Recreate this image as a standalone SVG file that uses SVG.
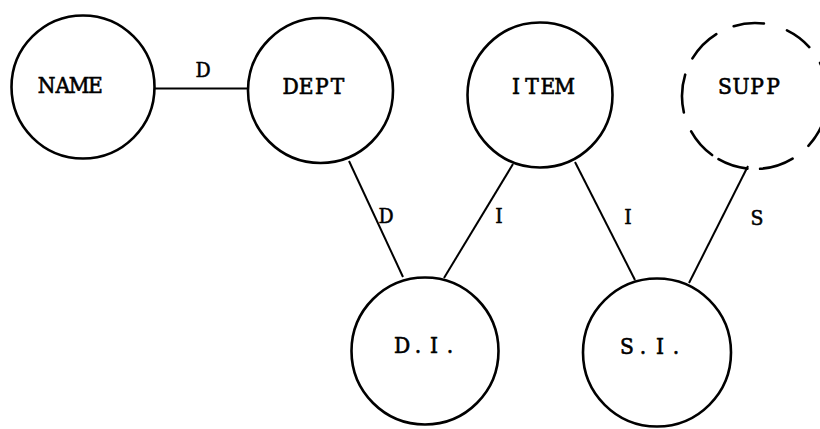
<svg xmlns="http://www.w3.org/2000/svg" width="820" height="429" viewBox="0 0 820 429">
  <style>
    .node { fill: none; stroke: #000; stroke-width: 2.6; }
    .dashed { fill: none; stroke: #000; stroke-width: 2.6; stroke-linecap: round; }
    .edge { stroke: #000; stroke-width: 2; fill: none; }
    .name { font-family: "DejaVu Serif Condensed", "DejaVu Serif", "Liberation Serif", serif; font-size: 22.5px; fill: #000; stroke: #000; stroke-width: 0.6; text-anchor: middle; }
    .lbl { font-family: "DejaVu Serif Condensed", "DejaVu Serif", "Liberation Serif", serif; font-size: 21px; fill: #000; stroke: #000; stroke-width: 0.5; text-anchor: middle; }
  </style>
  <rect width="820" height="429" fill="#fff"/>

  <!-- relationship connectors; glyphs placed on a fixed typewriter pitch -->
  <g id="connectors">
    <line class="edge" x1="154" y1="88.5" x2="248" y2="88.5" stroke-width="2.7"/>
    <line class="edge" x1="349" y1="161" x2="403" y2="277"/>
    <line class="edge" x1="513" y1="164" x2="444" y2="278"/>
    <line class="edge" x1="575" y1="162" x2="635" y2="280"/>
    <line class="edge" x1="748" y1="166" x2="689" y2="283"/>
    <text class="lbl" x="203" y="77">D</text>
    <text class="lbl" x="386" y="223">D</text>
    <text class="lbl" x="499" y="223">I</text>
    <text class="lbl" x="628" y="224">I</text>
    <text class="lbl" x="757" y="225">S</text>
  </g>

  <g id="name">
    <circle class="node" cx="83" cy="87" r="71.5"/>
    <text class="name" x="46.5 62.8 79.2 95.5" y="93">NAME</text>
  </g>

  <g id="dept">
    <circle class="node" cx="320.5" cy="90.5" r="72.5"/>
    <text class="name" x="290.5 306.2 321.8 337.5" y="94">DEPT</text>
  </g>

  <g id="item">
    <circle class="node" cx="540" cy="95" r="72.5"/>
    <text class="name" x="516 532 548 564.5" y="94">ITEM</text>
  </g>

  <!-- dashed entity, drawn as separate arcs -->
  <g id="supp">
    <path class="dashed" d="M747.37 168.60 A73 73 0 0 1 718.50 159.22
      M712.09 155.06 A73 73 0 0 1 691.15 131.39
      M683.87 112.42 A73 73 0 0 1 685.19 74.66
      M692.42 58.40 A73 73 0 0 1 716.32 34.10
      M733.66 26.19 A73 73 0 0 1 763.90 23.55
      M787.00 30.39 A73 73 0 0 1 809.25 47.15
      M820.04 62.86 A73 73 0 0 1 827.90 92.18
      M826.40 111.18 A73 73 0 0 1 808.39 145.79
      M792.60 158.57 A73 73 0 0 1 760.09 168.82"/>
    <text class="name" x="725 741 757 773" y="94">SUPP</text>
  </g>

  <g id="di">
    <circle class="node" cx="425" cy="351" r="73.5"/>
    <text class="name" x="402 418 434 450" y="353">D.I.</text>
  </g>

  <g id="si">
    <circle class="node" cx="657" cy="352.5" r="74"/>
    <text class="name" x="627 643 660 676" y="354">S.I.</text>
  </g>
</svg>
